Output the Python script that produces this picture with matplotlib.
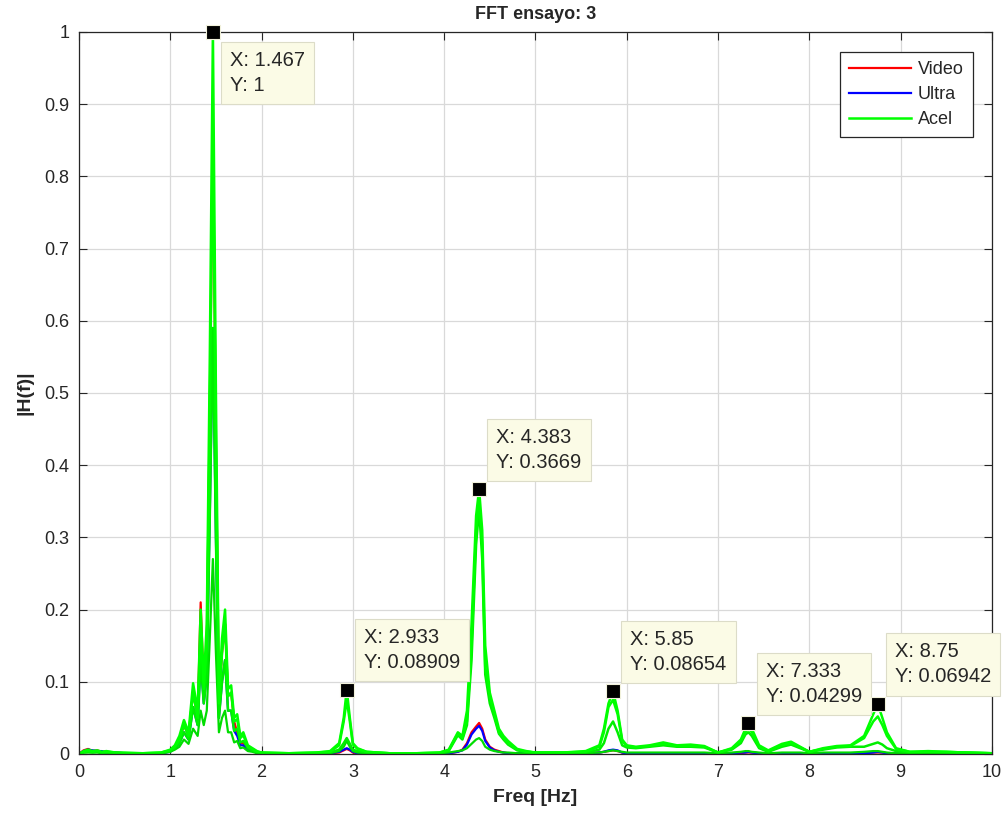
import matplotlib
matplotlib.use('Agg')
import matplotlib.pyplot as plt

plt.rcParams['font.family'] = ['Liberation Sans', 'DejaVu Sans']

# frecuencias (Hz)
freq = [0.0, 0.05, 0.1, 0.15, 0.2, 0.25, 0.3, 0.4, 0.5, 0.7,
        0.9, 1.0, 1.05, 1.1, 1.15, 1.2, 1.25, 1.3, 1.333, 1.367,
        1.4, 1.433, 1.467, 1.5, 1.533, 1.567, 1.6, 1.633, 1.667, 1.7,
        1.733, 1.767, 1.8, 1.85, 1.9, 1.95, 2.0, 2.3, 2.6, 2.75,
        2.85, 2.9, 2.933, 2.967, 3.0, 3.05, 3.15, 3.4, 3.7, 3.95,
        4.05, 4.15, 4.2, 4.25, 4.3, 4.35, 4.383, 4.417, 4.45, 4.5,
        4.55, 4.6, 4.65, 4.7, 4.8, 4.9, 5.0, 5.3, 5.55, 5.7,
        5.75, 5.8, 5.85, 5.9, 5.95, 6.0, 6.1, 6.25, 6.4, 6.55,
        6.7, 6.85, 7.0, 7.15, 7.25, 7.3, 7.333, 7.37, 7.45, 7.55,
        7.7, 7.8, 7.9, 8.0, 8.15, 8.3, 8.45, 8.6, 8.7, 8.75,
        8.8, 8.85, 8.95, 9.1, 9.3, 9.5, 9.7, 10.0]

video = [0.0, 0.005, 0.007, 0.004, 0.005, 0.003, 0.003, 0.002, 0.001, 0.001,
         0.001, 0.004, 0.01, 0.02, 0.04, 0.025, 0.085, 0.05, 0.21, 0.09,
         0.15, 0.47, 0.86, 0.43, 0.07, 0.14, 0.18, 0.08, 0.085, 0.045,
         0.03, 0.015, 0.015, 0.007, 0.005, 0.002, 0.001, 0.001, 0.001, 0.001,
         0.002, 0.005, 0.007, 0.005, 0.002, 0.001, 0.001, 0.001, 0.001, 0.001,
         0.001, 0.003, 0.006, 0.015, 0.03, 0.038, 0.043, 0.035, 0.02, 0.01,
         0.006, 0.004, 0.002, 0.001, 0.001, 0.001, 0.001, 0.001, 0.001, 0.002,
         0.003, 0.004, 0.005, 0.004, 0.002, 0.001, 0.001, 0.001, 0.001, 0.001,
         0.001, 0.001, 0.001, 0.001, 0.001, 0.002, 0.002, 0.002, 0.001, 0.001,
         0.001, 0.001, 0.001, 0.001, 0.001, 0.001, 0.001, 0.001, 0.002, 0.002,
         0.002, 0.001, 0.001, 0.001, 0.001, 0.001, 0.001, 0.001]

ultra = [0.0, 0.004, 0.006, 0.005, 0.004, 0.004, 0.002, 0.002, 0.001, 0.001,
         0.001, 0.003, 0.008, 0.015, 0.03, 0.02, 0.065, 0.04, 0.13, 0.07,
         0.11, 0.33, 0.59, 0.3, 0.05, 0.1, 0.13, 0.06, 0.06, 0.032,
         0.025, 0.012, 0.012, 0.006, 0.004, 0.002, 0.001, 0.001, 0.001, 0.001,
         0.003, 0.006, 0.008, 0.006, 0.003, 0.001, 0.001, 0.001, 0.001, 0.001,
         0.001, 0.003, 0.005, 0.013, 0.027, 0.035, 0.039, 0.032, 0.018, 0.009,
         0.005, 0.003, 0.002, 0.001, 0.001, 0.001, 0.001, 0.001, 0.001, 0.002,
         0.003, 0.005, 0.006, 0.005, 0.002, 0.001, 0.001, 0.001, 0.001, 0.001,
         0.001, 0.001, 0.001, 0.001, 0.002, 0.002, 0.003, 0.002, 0.001, 0.001,
         0.001, 0.001, 0.001, 0.001, 0.001, 0.001, 0.001, 0.001, 0.002, 0.003,
         0.002, 0.001, 0.001, 0.001, 0.001, 0.001, 0.001, 0.001]

acel_1 = [0.0, 0.004, 0.006, 0.004, 0.005, 0.003, 0.004, 0.002, 0.002, 0.001,
          0.002, 0.006, 0.012, 0.025, 0.047, 0.03, 0.098, 0.06, 0.2, 0.1,
          0.18, 0.55, 1.0, 0.5, 0.08, 0.16, 0.2, 0.09, 0.095, 0.05,
          0.055, 0.025, 0.03, 0.012, 0.008, 0.004, 0.002, 0.001, 0.002, 0.004,
          0.015, 0.05, 0.08909, 0.05, 0.015, 0.008, 0.003, 0.001, 0.001, 0.002,
          0.006, 0.03, 0.025, 0.06, 0.18, 0.33, 0.3669, 0.31, 0.15, 0.085,
          0.06, 0.035, 0.025, 0.018, 0.007, 0.004, 0.002, 0.002, 0.004, 0.012,
          0.035, 0.07, 0.08654, 0.06, 0.02, 0.012, 0.01, 0.012, 0.016, 0.012,
          0.013, 0.011, 0.002, 0.008, 0.02, 0.035, 0.04299, 0.035, 0.012, 0.005,
          0.014, 0.017, 0.01, 0.003, 0.008, 0.011, 0.012, 0.025, 0.055, 0.06942,
          0.05, 0.03, 0.008, 0.003, 0.004, 0.003, 0.002, 0.001]

acel_2 = [0.0, 0.003, 0.004, 0.003, 0.004, 0.002, 0.003, 0.002, 0.001, 0.001,
          0.002, 0.005, 0.01, 0.02, 0.04, 0.025, 0.085, 0.05, 0.17, 0.09,
          0.15, 0.47, 0.86, 0.43, 0.07, 0.14, 0.18, 0.08, 0.085, 0.045,
          0.048, 0.022, 0.026, 0.01, 0.007, 0.003, 0.002, 0.001, 0.002, 0.003,
          0.012, 0.045, 0.075, 0.045, 0.013, 0.007, 0.003, 0.001, 0.001, 0.002,
          0.005, 0.028, 0.022, 0.045, 0.15, 0.31, 0.35, 0.29, 0.12, 0.08,
          0.055, 0.03, 0.022, 0.015, 0.006, 0.003, 0.002, 0.002, 0.003, 0.01,
          0.03, 0.065, 0.075, 0.055, 0.018, 0.011, 0.009, 0.011, 0.014, 0.011,
          0.011, 0.01, 0.002, 0.007, 0.018, 0.03, 0.035, 0.03, 0.01, 0.004,
          0.012, 0.015, 0.009, 0.003, 0.007, 0.01, 0.011, 0.022, 0.045, 0.052,
          0.04, 0.025, 0.007, 0.003, 0.003, 0.003, 0.002, 0.001]

acel_3 = [0.0, 0.002, 0.003, 0.002, 0.003, 0.002, 0.002, 0.001, 0.001, 0.001,
          0.001, 0.004, 0.008, 0.015, 0.03, 0.02, 0.065, 0.04, 0.13, 0.07,
          0.11, 0.33, 0.59, 0.3, 0.05, 0.1, 0.13, 0.06, 0.06, 0.032,
          0.035, 0.016, 0.018, 0.008, 0.005, 0.002, 0.001, 0.001, 0.001, 0.002,
          0.006, 0.015, 0.022, 0.014, 0.006, 0.004, 0.002, 0.001, 0.001, 0.001,
          0.004, 0.026, 0.02, 0.04, 0.13, 0.29, 0.34, 0.27, 0.11, 0.07,
          0.05, 0.028, 0.02, 0.013, 0.005, 0.003, 0.002, 0.002, 0.002, 0.006,
          0.015, 0.035, 0.045, 0.03, 0.012, 0.009, 0.008, 0.01, 0.012, 0.01,
          0.01, 0.009, 0.002, 0.006, 0.015, 0.027, 0.03, 0.025, 0.008, 0.003,
          0.01, 0.013, 0.008, 0.003, 0.006, 0.009, 0.01, 0.01, 0.014, 0.016,
          0.013, 0.008, 0.004, 0.002, 0.003, 0.002, 0.002, 0.001]

acel_4 = [0.0, 0.002, 0.002, 0.002, 0.002, 0.001, 0.002, 0.001, 0.001, 0.001,
          0.001, 0.003, 0.006, 0.01, 0.02, 0.014, 0.035, 0.025, 0.06, 0.04,
          0.06, 0.16, 0.27, 0.14, 0.03, 0.05, 0.06, 0.03, 0.03, 0.016,
          0.018, 0.008, 0.009, 0.004, 0.003, 0.001, 0.001, 0.001, 0.001, 0.001,
          0.004, 0.01, 0.018, 0.01, 0.004, 0.002, 0.001, 0.001, 0.001, 0.001,
          0.002, 0.004, 0.005, 0.008, 0.014, 0.02, 0.022, 0.018, 0.01, 0.006,
          0.004, 0.003, 0.002, 0.002, 0.001, 0.001, 0.001, 0.001, 0.001, 0.002,
          0.003, 0.004, 0.005, 0.004, 0.003, 0.002, 0.002, 0.002, 0.002, 0.002,
          0.002, 0.002, 0.001, 0.002, 0.003, 0.004, 0.004, 0.003, 0.002, 0.001,
          0.002, 0.002, 0.002, 0.001, 0.002, 0.002, 0.002, 0.003, 0.004, 0.004,
          0.003, 0.002, 0.001, 0.001, 0.001, 0.001, 0.001, 0.001]

# datatips (picos)
tip_x = [1.467, 2.933, 4.383, 5.85, 7.333, 8.75]
tip_y = [1.0, 0.08909, 0.3669, 0.08654, 0.04299, 0.06942]
tip_lbl = ['X: 1.467\nY: 1', 'X: 2.933\nY: 0.08909', 'X: 4.383\nY: 0.3669',
           'X: 5.85\nY: 0.08654', 'X: 7.333\nY: 0.04299', 'X: 8.75\nY: 0.06942']

ytick_vals = [0, 0.1, 0.2, 0.3, 0.4, 0.5, 0.6, 0.7, 0.8, 0.9, 1]
ytick_lbl = ['0', '0.1', '0.2', '0.3', '0.4', '0.5', '0.6', '0.7', '0.8', '0.9', '1']

txt = '#262626'

fig = plt.figure(figsize=(10.06, 8.19), dpi=100)
ax = fig.add_axes([0.0785, 0.0794, 0.9075, 0.8816])

ax.plot(freq, video, color='#ff0000', lw=1.6, label='Video')
ax.plot(freq, ultra, color='#0000ff', lw=1.6, label='Ultra')
ax.plot(freq, acel_4, color='#00dd00', lw=1.6)
ax.plot(freq, acel_3, color='#00ee00', lw=1.8)
ax.plot(freq, acel_2, color='#00ff00', lw=1.8)
ax.plot(freq, acel_1, color='#00ff00', lw=1.8, label='Acel')

# marcadores y cajas tipo datatip de MATLAB
ax.plot(tip_x, tip_y, 's', color='black', ms=10, mec='#f2f2dc', mew=0.8,
        zorder=8, clip_on=False)
for i in range(len(tip_x)):
    if i == 0:
        off, va = (12, -14), 'top'
    else:
        off, va = (12.5, 12.5), 'bottom'
    ax.annotate(tip_lbl[i], (tip_x[i], tip_y[i]), xytext=off,
                textcoords='offset points', ha='left', va=va,
                fontsize=14.5, color=txt, linespacing=1.4, zorder=7,
                bbox=dict(boxstyle='square,pad=0.45', fc='#fbfbe6',
                          ec='#dcdcc8', lw=0.8))

ax.set_xlim(0, 10)
ax.set_ylim(0, 1)
ax.set_xticks(range(0, 11))
ax.set_yticks(ytick_vals)
ax.set_yticklabels(ytick_lbl)
ax.tick_params(direction='in', top=True, right=True, labelsize=13,
               colors=txt, length=6, width=0.8, pad=7)
ax.grid(True, color='#d9d9d9', lw=0.9)
ax.set_axisbelow(True)
for s in ax.spines.values():
    s.set_color(txt)
    s.set_linewidth(0.9)

ax.set_title('FFT ensayo: 3', fontsize=13, fontweight='bold', color=txt, pad=9)
ax.set_xlabel('Freq [Hz]', fontsize=14, fontweight='bold', color=txt, labelpad=6)
ax.set_ylabel('|H(f)|', fontsize=14, fontweight='bold', color=txt, labelpad=8)

leg = ax.legend(loc='upper right', bbox_to_anchor=(0.979, 0.972), fontsize=13,
                frameon=True, fancybox=False, edgecolor=txt, framealpha=1,
                handlelength=3.4, handletextpad=0.4, borderpad=0.5,
                labelspacing=0.45, borderaxespad=0)
leg.get_frame().set_linewidth(0.9)
for t in leg.get_texts():
    t.set_color(txt)

fig.savefig('out.png', dpi=100)
